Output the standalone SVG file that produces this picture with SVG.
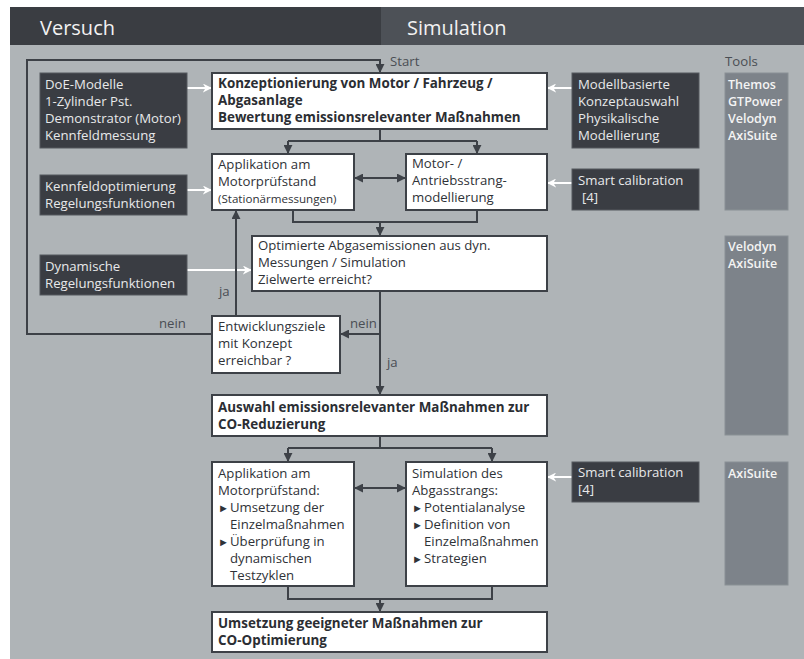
<svg xmlns="http://www.w3.org/2000/svg" width="804" height="659" viewBox="0 0 804 659">
<defs>
<style>
text{font-family:"Open Sans","Liberation Sans",sans-serif;font-size:13.2px;}
.hd{font-size:20px;fill:#f2f2f2;}
.w{fill:#ffffff;stroke:#3d4147;stroke-width:2;}
.d{fill:#3a3d43;stroke:#55595f;stroke-width:1;}
.t{fill:#7d838a;stroke:#8a9095;stroke-width:1;}
.tw{fill:#2f3237;}
.tb{fill:#2b2e33;font-weight:bold;font-size:13.4px;}
.tl{fill:#e8e9ea;}
.tt{fill:#f4f4f4;font-weight:600;font-size:12.5px;}
.lb{fill:#4a4e54;}
.sm{font-size:11.6px;}
.bu{font-size:11px;}
.c{fill:none;stroke:#3d4147;stroke-width:2;}
.cw{fill:none;stroke:#ffffff;stroke-width:2;}
</style>
<marker id="a" viewBox="0 0 10 10" refX="9" refY="5" markerWidth="4.5" markerHeight="4.5" orient="auto-start-reverse" markerUnits="strokeWidth">
<path d="M0,0 L10,5 L0,10 Z" fill="#3d4147"/>
</marker>
<marker id="aw" viewBox="0 0 10 10" refX="9" refY="5" markerWidth="4.5" markerHeight="4.5" orient="auto" markerUnits="strokeWidth">
<path d="M0,0 L10,5 L0,10 L3,5 Z" fill="#ffffff"/>
</marker>
</defs>

<rect x="10" y="45" width="794" height="614" fill="#afb4b7"/>
<g id="header">
<rect x="10" y="7" width="371" height="38" fill="#3a3d42"/>
<rect x="381" y="7" width="423" height="38" fill="#4d5157"/>
<text class="hd" x="40" y="35">Versuch</text>
<text class="hd" x="407" y="35">Simulation</text>
</g>

<g id="connectors">
<path class="c" d="M212 334 H27 V60 H380 V72" marker-end="url(#a)"/>
<path class="c" d="M380 129 V141 M288 141 H477"/>
<path class="c" d="M288 141 V153" marker-end="url(#a)"/>
<path class="c" d="M477 141 V153" marker-end="url(#a)"/>
<path class="c" d="M355 178 H405" marker-start="url(#a)" marker-end="url(#a)"/>
<path class="c" d="M293 210 V222 H477 V210"/>
<path class="c" d="M380 222 V235" marker-end="url(#a)"/>
<path class="cw" d="M187 270 H251" marker-end="url(#aw)"/>
<path class="c" d="M236 316 V211" marker-end="url(#a)"/>
<path class="c" d="M380 291 V394" marker-end="url(#a)"/>
<path class="c" d="M380 334 H341" marker-end="url(#a)"/>
<path class="c" d="M380 436 V448 M288 448 H492"/>
<path class="c" d="M288 448 V461" marker-end="url(#a)"/>
<path class="c" d="M492 448 V461" marker-end="url(#a)"/>
<path class="c" d="M355 488 H405" marker-start="url(#a)" marker-end="url(#a)"/>
<path class="c" d="M288 586 V599 H492 V586"/>
<path class="c" d="M380 599 V611" marker-end="url(#a)"/>
<path class="cw" d="M187 88 H211" marker-end="url(#aw)"/>
<path class="cw" d="M572 88 H548" marker-end="url(#aw)"/>
<path class="cw" d="M187 190 H211" marker-end="url(#aw)"/>
<path class="cw" d="M572 183 H548" marker-end="url(#aw)"/>
<path class="cw" d="M572 477 H548" marker-end="url(#aw)"/>
<text class="lb" x="390" y="66">Start</text>
<text class="lb" x="159" y="328">nein</text>
<text class="lb" x="350" y="328">nein</text>
<text class="lb" x="219" y="296">ja</text>
<text class="lb" x="387" y="367">ja</text>
</g>

<g id="tools">
<text class="lb" x="725" y="66">Tools</text>
<rect class="t" x="725" y="73" width="63" height="137"/>
<text class="tt" x="728" y="89">Themos</text>
<text class="tt" x="728" y="106">GTPower</text>
<text class="tt" x="728" y="123">Velodyn</text>
<text class="tt" x="728" y="140">AxiSuite</text>
</g>
<g id="tools2">
<rect class="t" x="725" y="236" width="63" height="199"/>
<text class="tt" x="728" y="251">Velodyn</text>
<text class="tt" x="728" y="268">AxiSuite</text>
</g>
<g id="tools3">
<rect class="t" x="725" y="462" width="63" height="123"/>
<text class="tt" x="728" y="478">AxiSuite</text>
</g>

<g id="doe">
<rect class="d" x="40" y="73" width="147" height="75"/>
<text class="tl" x="45" y="89">DoE-Modelle</text>
<text class="tl" x="45" y="106">1-Zylinder Pst.</text>
<text class="tl" x="45" y="123">Demonstrator (Motor)</text>
<text class="tl" x="45" y="140">Kennfeldmessung</text>
</g>
<g id="konzeption">
<rect class="w" x="212" y="73" width="335" height="56"/>
<text class="tb" x="218" y="88">Konzeptionierung von Motor / Fahrzeug /</text>
<text class="tb" x="218" y="105">Abgasanlage</text>
<text class="tb" x="218" y="122">Bewertung emissionsrelevanter Maßnahmen</text>
</g>
<g id="modellbasiert">
<rect class="d" x="572" y="73" width="127" height="75"/>
<text class="tl" x="578" y="89">Modellbasierte</text>
<text class="tl" x="578" y="106">Konzeptauswahl</text>
<text class="tl" x="578" y="123">Physikalische</text>
<text class="tl" x="578" y="140">Modellierung</text>
</g>

<g id="kennfeld">
<rect class="d" x="40" y="175" width="147" height="40"/>
<text class="tl" x="45" y="191">Kennfeldoptimierung</text>
<text class="tl" x="45" y="208">Regelungsfunktionen</text>
</g>
<g id="applikation1">
<rect class="w" x="212" y="154" width="142" height="56"/>
<text class="tw" x="218" y="169">Applikation am</text>
<text class="tw" x="218" y="186">Motorprüfstand</text>
<text class="tw sm" x="218" y="203">(Stationärmessungen)</text>
</g>
<g id="motor">
<rect class="w" x="406" y="154" width="141" height="56"/>
<text class="tw" x="412" y="168">Motor- /</text>
<text class="tw" x="412" y="185">Antriebsstrang-</text>
<text class="tw" x="412" y="202">modellierung</text>
</g>
<g id="smart1">
<rect class="d" x="572" y="169" width="127" height="41"/>
<text class="tl" x="578" y="185">Smart calibration</text>
<text class="tl" x="582" y="202">[4]</text>
</g>

<g id="dynamisch">
<rect class="d" x="40" y="255" width="147" height="40"/>
<text class="tl" x="45" y="271">Dynamische</text>
<text class="tl" x="45" y="288">Regelungsfunktionen</text>
</g>
<g id="optimiert">
<rect class="w" x="252" y="236" width="295" height="55"/>
<text class="tw" x="258" y="250">Optimierte Abgasemissionen aus dyn.</text>
<text class="tw" x="258" y="267">Messungen / Simulation</text>
<text class="tw" x="258" y="284">Zielwerte erreicht?</text>
</g>
<g id="entwicklung">
<rect class="w" x="212" y="316" width="128" height="57"/>
<text class="tw" x="218" y="331">Entwicklungsziele</text>
<text class="tw" x="218" y="348">mit Konzept</text>
<text class="tw" x="218" y="365">erreichbar ?</text>
</g>

<g id="auswahl">
<rect class="w" x="212" y="395" width="335" height="41"/>
<text class="tb" x="218" y="412">Auswahl emissionsrelevanter Maßnahmen zur</text>
<text class="tb" x="218" y="429">CO-Reduzierung</text>
</g>

<g id="applikation2">
<rect class="w" x="212" y="462" width="142" height="124"/>
<text class="tw" x="218" y="478">Applikation am</text>
<text class="tw" x="218" y="495">Motorprüfstand:</text>
<text class="tw" x="218" y="512"><tspan class="bu">►</tspan><tspan x="230">Umsetzung der</tspan></text>
<text class="tw" x="230" y="529">Einzelmaßnahmen</text>
<text class="tw" x="218" y="546"><tspan class="bu">►</tspan><tspan x="230">Überprüfung in</tspan></text>
<text class="tw" x="230" y="563">dynamischen</text>
<text class="tw" x="230" y="580">Testzyklen</text>
</g>
<g id="simulation">
<rect class="w" x="406" y="462" width="141" height="124"/>
<text class="tw" x="412" y="478">Simulation des</text>
<text class="tw" x="412" y="495">Abgasstrangs:</text>
<text class="tw" x="412" y="512"><tspan class="bu">►</tspan><tspan x="424">Potentialanalyse</tspan></text>
<text class="tw" x="412" y="529"><tspan class="bu">►</tspan><tspan x="424">Definition von</tspan></text>
<text class="tw" x="424" y="546">Einzelmaßnahmen</text>
<text class="tw" x="412" y="563"><tspan class="bu">►</tspan><tspan x="424">Strategien</tspan></text>
</g>
<g id="smart2">
<rect class="d" x="572" y="462" width="127" height="40"/>
<text class="tl" x="578" y="477">Smart calibration</text>
<text class="tl" x="578" y="494">[4]</text>
</g>

<g id="umsetzung">
<rect class="w" x="212" y="612" width="335" height="40"/>
<text class="tb" x="218" y="628">Umsetzung geeigneter Maßnahmen zur</text>
<text class="tb" x="218" y="645">CO-Optimierung</text>
</g>
</svg>
